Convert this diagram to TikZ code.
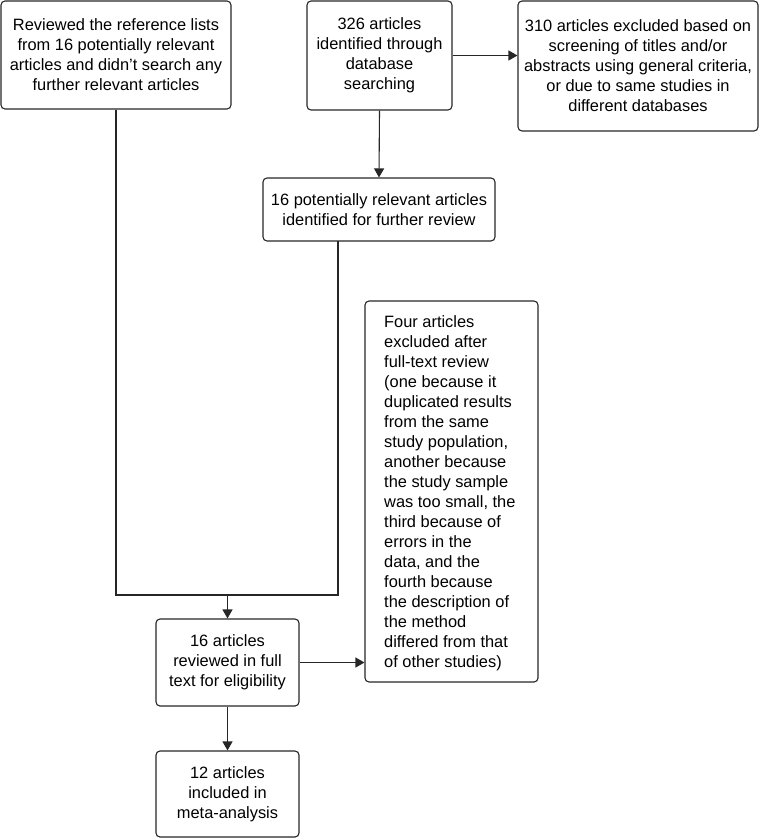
\documentclass[tikz,border=0pt]{standalone}
\usepackage{fontspec}
\setmainfont{Liberation Sans}
\usetikzlibrary{arrows.meta}
\begin{document}
\begin{tikzpicture}[x=1pt,y=-1pt,
  box/.style={draw=black!85, line width=1.1pt, rounded corners=4pt, inner sep=0pt, align=center,
    font=\fontsize{16.4pt}{20pt}\selectfont},
  conn/.style={draw=black!85, line width=1.1pt},
  arr/.style={conn, -{Triangle[length=9pt,width=10pt]}}]
\useasboundingbox (0,0) rectangle (761,838);
\node[box, minimum width=230pt, minimum height=108pt] (b1) at (116,55)
  {Reviewed the reference lists\\from 16 potentially relevant\\articles and didn{\char"27}t search any\\further relevant articles};
\node[box, minimum width=145pt, minimum height=109pt] (b2) at (379.5,55.5)
  {326 articles\\identified through\\database\\searching};
\node[box, minimum width=240pt, minimum height=130pt] (b3) at (638,66)
  {310 articles excluded based on\\screening of titles and/or\\abstracts using general criteria,\\or due to same studies in\\different databases};
\node[box, minimum width=232pt, minimum height=63pt] (b4) at (379,209.5)
  {16 potentially relevant articles\\identified for further review};
\node[box, minimum width=173pt, minimum height=381pt] (b5) at (451.5,491.5) {};
\node[anchor=north west, inner sep=0pt, align=left, font=\fontsize{16.4pt}{20pt}\selectfont] (t5) at (384,315)
  {Four articles\\excluded after\\full-text review\\(one because it\\duplicated results\\from the same\\study population,\\another because\\the study sample\\was too small, the\\third because of\\errors in the\\data, and the\\fourth because\\the description of\\the method\\differed from that\\of other studies)};
\node[box, minimum width=143pt, minimum height=87pt] (b6) at (227.5,662.5)
  {16 articles\\reviewed in full\\text for eligibility};
\node[box, minimum width=143pt, minimum height=86pt] (b7) at (227.5,794)
  {12 articles\\included in\\meta-analysis};
\coordinate (b4s) at (338,241);
\coordinate (j1) at (116,595);
\coordinate (j2) at (338,595);
\coordinate (j3) at (227.5,595);
\draw[arr] (b2.south) -- (b4.north);
\draw[arr] (b2.east) -- (b2.east -| b3.west);
\draw[conn] (b1.south) -- (j1) -- (j2) -- (b4s);
\draw[arr] (j3) -- (b6.north);
\draw[arr] (b6.east) -- (b6.east -| b5.west);
\draw[arr] (b6.south) -- (b7.north);
\end{tikzpicture}
\end{document}
